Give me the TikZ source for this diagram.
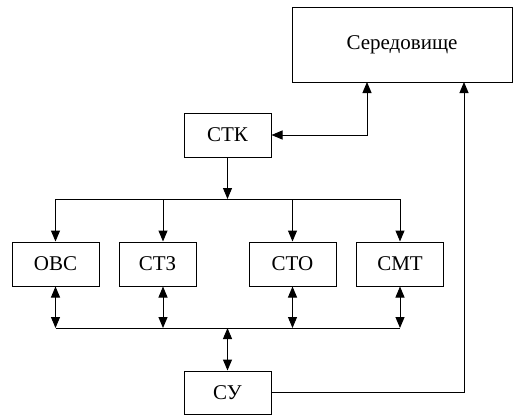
\documentclass[tikz,border=0pt]{standalone}
\usepackage{fontspec}
\setmainfont{Liberation Serif}
\newfontfamily\blkfont{Liberation Serif}
\usetikzlibrary{arrows.meta}
\begin{document}
\begin{tikzpicture}[x=1pt,y=-1pt,line width=1pt,
  blk/.style={draw,minimum width=87pt,minimum height=44pt,inner sep=0pt,
    font=\blkfont\fontsize{21}{25}\selectfont},
  tip/.style={-{Triangle[length=11pt,width=9pt]}},
  both/.style={{Triangle[length=11pt,width=9pt]}-{Triangle[length=11pt,width=9pt]}}]
\useasboundingbox (0,0) rectangle (514,415);
% blocks
\node[blk,minimum width=220pt,minimum height=75pt] (env) at (402,44.5) {Середовище};
\node[blk] (stk) at (227.5,135) {СТК};
\node[blk] (ovs) at (55.5,264) {ОВС};
\node[blk,minimum width=77pt] (stz) at (157.5,264) {СТЗ};
\node[blk] (sto) at (292.5,264) {СТО};
\node[blk] (smt) at (400,264) {СМТ};
\node[blk,minimum height=43pt] (su) at (227.5,392.5) {СУ};
% bus levels and off-centre attachment points
\coordinate (busT) at (0,199);
\coordinate (busB) at (0,328);
\coordinate (stzN) at ([xshift=5.5pt]stz.north);
\coordinate (stzS) at ([xshift=5.5pt]stz.south);
\coordinate (envL) at (367,82);
\coordinate (envR) at (464,82);
% upper distribution bus
\draw (ovs.north |- busT) -- (smt.north |- busT);
\draw[tip] (stk.south) -- (stk.south |- busT);
\draw[tip] (ovs.north |- busT) -- (ovs.north);
\draw[tip] (stzN |- busT) -- (stzN);
\draw[tip] (sto.north |- busT) -- (sto.north);
\draw[tip] (smt.north |- busT) -- (smt.north);
% lower exchange bus
\draw (ovs.south |- busB) -- (smt.south |- busB);
\draw[both] (ovs.south) -- (ovs.south |- busB);
\draw[both] (stzS) -- (stzS |- busB);
\draw[both] (sto.south) -- (sto.south |- busB);
\draw[both] (smt.south) -- (smt.south |- busB);
\draw[both] (su.north |- busB) -- (su.north);
% links to the environment
\draw[both] (stk.east) -| (envL);
\draw[tip] (su.east) -| (envR);
\end{tikzpicture}
\end{document}
